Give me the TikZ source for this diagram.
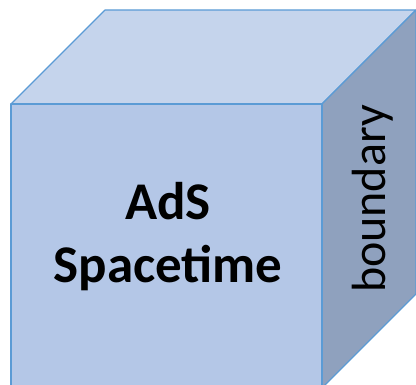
\documentclass[tikz,border=0pt]{standalone}
\usepackage{fontspec}
\setmainfont{Carlito}
\definecolor{frontblue}{HTML}{B4C7E7}
\definecolor{topblue}{HTML}{C5D4EC}
\definecolor{sideblue}{HTML}{8FA1BE}
\definecolor{edgeblue}{HTML}{5B9BD5}
\begin{document}
\begin{tikzpicture}[x=1pt, y=-1pt, line join=round, line cap=round,
  face/.style={draw=edgeblue, line width=1.1pt}]
  \def\xl{11} \def\xr{322} \def\yt{104} \def\yb{388} \def\d{94} % cube
  \useasboundingbox (0,0) rectangle (416,385);
  \clip (0,0) rectangle (416,385);
  \filldraw[face, fill=topblue] (\xl,\yt) -- (\xl+\d,\yt-\d) -- (\xr+\d,\yt-\d) -- (\xr,\yt) -- cycle;
  \filldraw[face, fill=sideblue] (\xr,\yt) -- (\xr+\d,\yt-\d) -- (\xr+\d,\yb-\d) -- (\xr,\yb) -- cycle;
  \filldraw[face, fill=frontblue] (\xl,\yt) rectangle (\xr,\yb);
  \node[font=\bfseries\fontsize{53}{63}\selectfont, align=center] (ads) at (168,237) {AdS\\Spacetime};
  \node[rotate=90, font=\fontsize{48}{56}\selectfont] (bnd) at (373,199) {boundary};
\end{tikzpicture}
\end{document}
